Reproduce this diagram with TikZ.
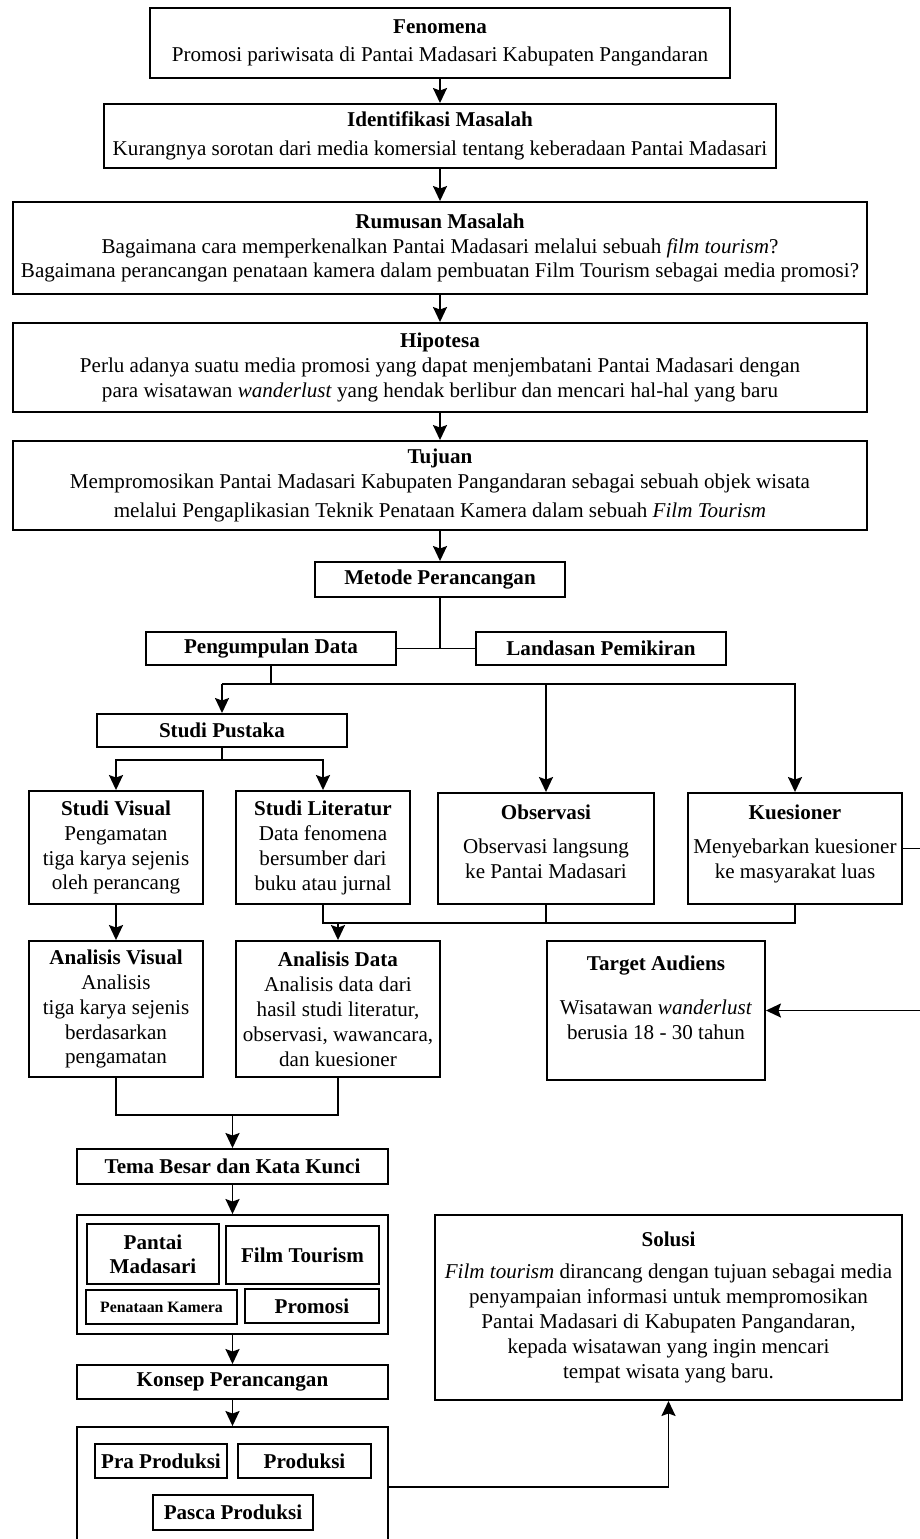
\documentclass[tikz,border=0pt]{standalone}
\usepackage{fontspec}
\setmainfont{Liberation Serif}
\usetikzlibrary{arrows.meta}

\tikzset{
  box/.style={draw, align=center, inner sep=0pt, font=\fontsize{12}{14.2}\selectfont},
  txt/.style={align=center, inner sep=7pt, font=\fontsize{12}{14.2}\selectfont},
  kbox/.style={draw, align=center, inner sep=0pt, font=\bfseries\fontsize{12}{13.6}\selectfont},
  arr/.style={-{Stealth[length=3mm,width=2.8mm,inset=0.5mm]}}
}

\begin{document}
\begin{tikzpicture}[x=0.02cm, y=-0.02cm, line width=1.1pt]
\useasboundingbox (0,0) rectangle (920,1539);

\node[box, minimum width=11.62cm, minimum height=1.4cm] (fen) at (440,43) {\textbf{Fenomena}\\[2pt]Promosi pariwisata di Pantai Madasari Kabupaten Pangandaran};
\node[box, minimum width=13.44cm, minimum height=1.28cm] (ide) at (440,136) {\textbf{Identifikasi Masalah}\\[2pt]Kurangnya sorotan dari media komersial tentang keberadaan Pantai Madasari};
\node[box, minimum width=17.1cm, minimum height=1.84cm] (rum) at (440,248) {\textbf{Rumusan Masalah}\\Bagaimana cara memperkenalkan Pantai Madasari melalui sebuah \textit{film tourism}?\\Bagaimana perancangan penataan kamera dalam pembuatan Film Tourism sebagai media promosi?};
\node[box, minimum width=17.1cm, minimum height=1.78cm] (hip) at (440,367.5) {\textbf{Hipotesa}\\Perlu adanya suatu media promosi yang dapat menjembatani Pantai Madasari dengan\\para wisatawan \textit{wanderlust} yang hendak berlibur dan mencari hal-hal yang baru};
\node[box, minimum width=17.1cm, minimum height=1.78cm] (tuj) at (440,485.5) {\textbf{Tujuan}\\Mempromosikan Pantai Madasari Kabupaten Pangandaran sebagai sebuah objek wisata\\[2pt]melalui Pengaplikasian Teknik Penataan Kamera dalam sebuah \textit{Film Tourism}};

\draw[arr] (fen.south) -- (ide.north);
\draw[arr] (ide.south) -- (rum.north);
\draw[arr] (rum.south) -- (hip.north);
\draw[arr] (hip.south) -- (tuj.north);

\node[box, minimum width=5cm, minimum height=0.7cm] (met) at (440,579.5) {\textbf{Metode Perancangan}};
\node[box, minimum width=5cm, minimum height=0.66cm] (pd) at (271,648.5) {\textbf{Pengumpulan Data}};
\node[box, minimum width=5cm, minimum height=0.66cm] (lp) at (601,648.5) {\textbf{Landasan Pemikiran}};
\draw[arr] (tuj.south) -- (met.north);
\draw (met.south) -- (met.south |- pd.east);
\draw (pd.east) -- (lp.west);

\node[box, minimum width=5cm, minimum height=0.66cm] (sp) at (222,730.5) {\textbf{Studi Pustaka}};
\node[box, minimum width=3.48cm, minimum height=2.26cm] (sv) at (116,847.5) {\textbf{Studi Visual}\\Pengamatan\\tiga karya sejenis\\oleh perancang};
\node[box, minimum width=3.48cm, minimum height=2.26cm] (sl) at (323,847.5) {\textbf{Studi Literatur}\\Data fenomena\\bersumber dari\\buku atau jurnal};
\node[box, minimum width=4.32cm, minimum height=2.22cm] (obs) at (546,848.5) {};
\node[txt, anchor=north] (obstxt) at (obs.north) {\textbf{Observasi}\\[5pt]Observasi langsung\\ke Pantai Madasari};
\node[box, minimum width=4.28cm, minimum height=2.22cm] (kues) at (795,848.5) {};
\node[txt, anchor=north] (kuestxt) at (kues.north) {\textbf{Kuesioner}\\[5pt]Menyebarkan kuesioner\\ke masyarakat luas};

\coordinate (j1) at (0,684);
\draw (pd.south) -- (pd.south |- j1);
\draw[arr] (sp.north |- j1) -- (sp.north);
\draw[arr] (sp.north |- j1) -| (obs.north);
\draw[arr] (sp.north |- j1) -| (kues.north);

\coordinate (j2) at (0,760);
\draw (sp.south) -- (sp.south |- j2);
\draw[arr] (sp.south |- j2) -| (sv.north);
\draw[arr] (sp.south |- j2) -| (sl.north);

\node[box, minimum width=3.48cm, minimum height=2.72cm] (av) at (116,1009) {\textbf{Analisis Visual}\\Analisis\\tiga karya sejenis\\berdasarkan\\pengamatan};
\node[box, minimum width=4.08cm, minimum height=2.72cm] (ad) at (338,1009) {\textbf{Analisis Data}\\Analisis data dari\\hasil studi literatur,\\observasi, wawancara,\\dan kuesioner};
\node[box, minimum width=4.36cm, minimum height=2.78cm] (ta) at (656,1010.5) {};
\node[txt, anchor=north, inner sep=8.5pt] (tatxt) at (ta.north) {\textbf{Target Audiens}\\[11pt]Wisatawan \textit{wanderlust}\\berusia 18 - 30 tahun};

\draw[arr] (sv.south) -- (av.north);
\coordinate (j3) at (0,923);
\draw (sl.south) |- (kues.south |- j3) -- (kues.south);
\draw (obs.south) -- (obs.south |- j3);
\draw[arr] (ad.north |- j3) -- (ad.north);
\coordinate (edge) at (925,0);
\draw[arr] (kues.east) -- (kues.east -| edge) |- (ta.east);

\node[box, minimum width=6.22cm, minimum height=0.7cm] (tema) at (232.5,1166.5) {\textbf{Tema Besar dan Kata Kunci}};
\node[box, minimum width=6.22cm, minimum height=2.38cm] (kk) at (232.5,1274.5) {};
\node[kbox, minimum width=2.64cm, minimum height=1.2cm] (pm) at (153,1254) {Pantai\\Madasari};
\node[kbox, minimum width=3.06cm, minimum height=1.16cm] (ft) at (302.5,1255) {Film Tourism};
\node[kbox, minimum width=3.02cm, minimum height=0.68cm, font=\bfseries\fontsize{9}{11}\selectfont] (pk) at (161.5,1307) {Penataan Kamera};
\node[kbox, minimum width=2.68cm, minimum height=0.68cm] (pr) at (312,1306) {Promosi};

\coordinate (j4) at (0,1115);
\draw (av.south) |- (ad.south |- j4) -- (ad.south);
\draw[arr] (tema.north |- j4) -- (tema.north);
\draw[arr] (tema.south) -- (kk.north);

\node[box, minimum width=6.22cm, minimum height=0.68cm] (kon) at (232.5,1382) {\textbf{Konsep Perancangan}};
\node[box, minimum width=6.22cm, minimum height=2.86cm] (prod) at (232.5,1498.5) {};
\node[kbox, minimum width=2.64cm, minimum height=0.68cm] (pra) at (161,1461) {Pra Produksi};
\node[kbox, minimum width=2.66cm, minimum height=0.68cm] (pro) at (304.5,1461) {Produksi};
\node[kbox, minimum width=3.2cm, minimum height=0.7cm] (pas) at (233,1512.5) {Pasca Produksi};
\draw[arr] (kk.south) -- (kon.north);
\draw[arr] (kon.south) -- (prod.north);

\node[box, minimum width=9.34cm, minimum height=3.7cm] (sol) at (668.5,1307.5) {\textbf{Solusi}\\[4pt]\textit{Film tourism} dirancang dengan tujuan sebagai media\\penyampaian informasi untuk mempromosikan\\Pantai Madasari di Kabupaten Pangandaran,\\kepada wisatawan yang ingin mencari\\tempat wisata yang baru.};
\coordinate (j5) at (0,1487);
\draw[arr] (prod.east |- j5) -| (sol.south);

\end{tikzpicture}
\end{document}
